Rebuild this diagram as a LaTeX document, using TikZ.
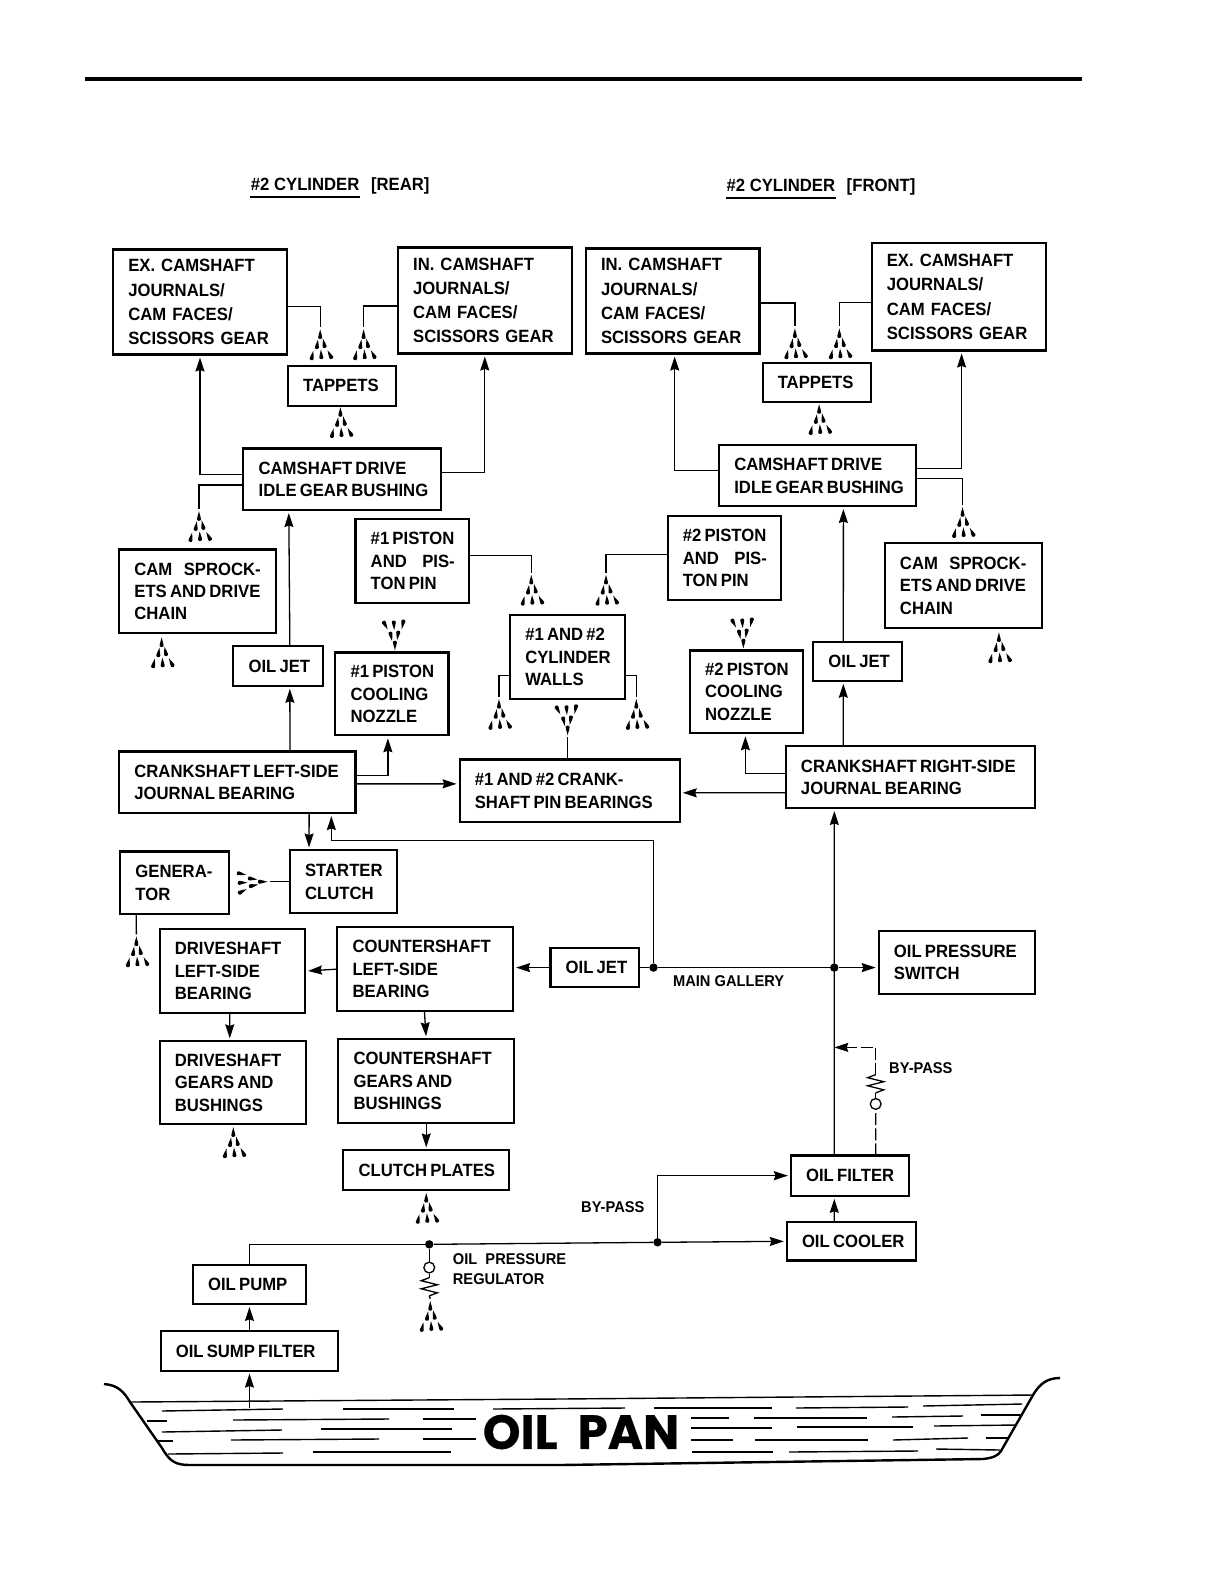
\documentclass[tikz,border=0pt]{standalone}
\usepackage{fontspec}
\setmainfont[FakeStretch=.94]{Liberation Sans}
\newfontfamily\panfont[BoldFeatures={FakeBold=.5}]{Poppins}
\usetikzlibrary{positioning,arrows.meta}
\tikzset{
 blk/.style 2 args={draw, line width=1.05pt, anchor=north west, outer sep=0pt, inner xsep=1.5pt, inner ysep=0pt,
  text width={(#1*.505-3)*1pt}, minimum height={#2*.505pt}, align=left,
  font=\fontsize{8.88}{11.2}\selectfont\bfseries,
  execute at begin node={\leftskip=6.1pt\rightskip=-6pt plus 1fil\spaceskip=1.6pt\xspaceskip=1.9pt}},
 camblk/.style={font=\fontsize{8.88}{12.1}\selectfont\bfseries,
  execute at begin node={\leftskip=6.1pt\rightskip=-6pt plus 1fil\spaceskip=3pt\xspaceskip=3pt}},
 lbl/.style={align=left, anchor=west, inner sep=0pt, font=\fontsize{7.8}{10}\selectfont\bfseries},
 ttl/.style={inner xsep=0pt, inner ysep=2.6pt, font=\fontsize{8.88}{10}\selectfont\bfseries},
 arr/.style={line width=.65pt, shorten >=1.5pt, -{Stealth[length=7pt,width=4.5pt,inset=.8pt]}},
 lin/.style={line width=.65pt},
 dsh/.style={line width=.65pt, dash pattern=on 6pt off 1.6pt},
 jdot/.style={circle, fill=black, inner sep=0pt, minimum size=4.2pt},
 vlv/.style={circle, draw, line width=.65pt, fill=white, inner sep=0pt, minimum size=5.4pt},
 spray/.pic={
  \foreach \dx/\dy/\ang in {0/8/0,-3/18/-8,4/17/12,-8/29/-12,1/28/3,10/28/28}
   \fill[shift={(\dx,\dy)},rotate=\ang] (0,-6) .. controls (.8,-2) and (2,0) .. (2,2)
    .. controls (2,4.2) and (-2,4.2) .. (-2,2) .. controls (-2,0) and (-.8,-2) .. cycle;
 },
 spring/.pic={
  \draw[line width=.65pt] (0,-9) -- (-8,-6) -- (8,-2) -- (-8,2) -- (8,6) -- (0,9);
 }
}
\begin{document}
\begin{tikzpicture}[x=.505pt,y=-.505pt]
\useasboundingbox (0,0) rectangle (1211.9,1568.3);
\coordinate (rulea) at (84,78);
\coordinate (ruleb) at (1071,78);
\draw[line width=2pt] (rulea) -- (ruleb);

% titles
\node[ttl,anchor=base west] (titler) at (248,189) {\#2 CYLINDER};
\node[ttl,base right=5.4pt of titler] (titlerb) {[REAR]};
\node[ttl,anchor=base west] (titlef) at (719,190) {\#2 CYLINDER};
\node[ttl,base right=5.4pt of titlef] (titlefb) {[FRONT]};
\draw[line width=.9pt] (titler.south west) -- (titler.south east);
\draw[line width=.9pt] (titlef.south west) -- (titlef.south east);

% rear side
\node[blk={172}{104},camblk] (excamr) at (112,247) {EX. CAMSHAFT\\JOURNALS/\\CAM FACES/\\SCISSORS GEAR};
\node[blk={172}{105},camblk] (incamr) at (394,245) {IN. CAMSHAFT\\JOURNALS/\\CAM FACES/\\SCISSORS GEAR};
\node[blk={107}{40}] (tappetsr) at (285,362) {TAPPETS};
\node[blk={196}{61}] (driver) at (241,444) {CAMSHAFT DRIVE\\IDLE GEAR BUSHING};
\node[blk={155}{83}] (sprockr) at (118,544) {CAM\hspace{5.7pt}SPROCK-\\ETS AND DRIVE\\CHAIN};
\node[blk={112}{83}] (pistonone) at (352,514) {\#1 PISTON\\AND\hspace{7.7pt}PIS-\\TON PIN};
\node[blk={89}{39}] (jetl) at (231,640) {OIL JET};
\node[blk={112}{82}] (nozzleone) at (332,646) {\#1 PISTON\\COOLING\\NOZZLE};
\node[blk={234}{61}] (crankl) at (118,744) {CRANKSHAFT LEFT-SIDE\\JOURNAL BEARING};

% middle
\node[blk={114}{83}] (walls) at (505,609) {\#1 AND \#2\\CYLINDER\\WALLS};
\node[blk={218}{62}] (pins) at (455,752) {\#1 AND \#2 CRANK-\\SHAFT PIN BEARINGS};

% front side
\node[blk={172}{104},camblk] (incamf) at (580,246) {IN. CAMSHAFT\\JOURNALS/\\CAM FACES/\\SCISSORS GEAR};
\node[blk={173}{106},camblk] (excamf) at (863,241) {EX. CAMSHAFT\\JOURNALS/\\CAM FACES/\\SCISSORS GEAR};
\node[blk={107}{39}] (tappetsf) at (755,359) {TAPPETS};
\node[blk={195}{60}] (drivef) at (712,441) {CAMSHAFT DRIVE\\IDLE GEAR BUSHING};
\node[blk={156}{84}] (sprockf) at (876,538) {CAM\hspace{5.7pt}SPROCK-\\ETS AND DRIVE\\CHAIN};
\node[blk={112}{83}] (pistontwo) at (661,511) {\#2 PISTON\\AND\hspace{7.7pt}PIS-\\TON PIN};
\node[blk={88}{38}] (jetr) at (805,636) {OIL JET};
\node[blk={112}{82}] (nozzletwo) at (683,644) {\#2 PISTON\\COOLING\\NOZZLE};
\node[blk={247}{61}] (crankr) at (778,739) {CRANKSHAFT RIGHT-SIDE\\JOURNAL BEARING};

% lower part
\node[blk={108}{62}] (genera) at (119,843) {GENERA-\\TOR};
\node[blk={106}{62}] (starter) at (287,842) {STARTER\\CLUTCH};
\node[blk={144}{83}] (driveb) at (158,920) {DRIVESHAFT\\LEFT-SIDE\\BEARING};
\node[blk={174}{83}] (counterb) at (334,918) {COUNTERSHAFT\\LEFT-SIDE\\BEARING};
\node[blk={88}{38}] (jetm) at (545,939) {OIL JET};
\node[blk={155}{62}] (pswitch) at (870,922) {OIL PRESSURE\\SWITCH};
\node[blk={145}{82}] (driveg) at (158,1031) {DRIVESHAFT\\GEARS AND\\BUSHINGS};
\node[blk={174}{83}] (counterg) at (335,1029) {COUNTERSHAFT\\GEARS AND\\BUSHINGS};
\node[blk={164}{39}] (clutch) at (340,1139) {CLUTCH PLATES};
\node[blk={117}{40}] (filter) at (783,1144) {OIL FILTER};
\node[blk={128}{38}] (cooler) at (779,1210) {OIL COOLER};
\node[blk={112}{39}] (pump) at (191,1252) {OIL PUMP};
\node[blk={176}{39}] (sump) at (159,1318) {OIL SUMP FILTER};

% labels
\node[lbl] (mainlbl) at (666,971) {MAIN GALLERY};
\node[lbl] (bypassa) at (880,1058) {BY-PASS};
\node[lbl] (bypassb) at (575,1195) {BY-PASS};
\node[lbl] (reglbl) at (448,1257) {OIL\ \ PRESSURE\\REGULATOR};

% sprays
\coordinate (sa) at (317,324);
\coordinate (sb) at (360,324);
\coordinate (sc) at (337,401);
\coordinate (sd) at (197,504);
\coordinate (se) at (160,629);
\coordinate (sf) at (526,567);
\coordinate (sg) at (600,567);
\coordinate (sh) at (494,690);
\coordinate (si) at (630,690);
\coordinate (sj) at (787,323);
\coordinate (sk) at (831,323);
\coordinate (sl) at (811,398);
\coordinate (sm) at (953,500);
\coordinate (sn) at (989,624);
\coordinate (so) at (135,925);
\coordinate (sp) at (231,1114);
\coordinate (sq) at (422,1179);
\coordinate (sr) at (426,1286);
\foreach \s in {sa,sb,sc,sd,se,sf,sg,sh,si,sj,sk,sl,sm,sn,so,sp,sq,sr}
 \pic at (\s) {spray};
\coordinate (ua) at (391,646);
\coordinate (ub) at (736,644);
\coordinate (uc) at (562,730);
\foreach \s in {ua,ub,uc}
 \pic[rotate=180] at (\s) {spray};
\coordinate (ud) at (267,873);
\pic[rotate=-90] at (ud) {spray};

% rear connectors
\draw[lin] ([yshift=-2.3pt]excamr.east) -| (sa);
\draw[lin] ([yshift=-2.8pt]incamr.west) -| (sb);
\draw[arr] ([yshift=2.5pt]driver.west) -| (excamr.south);
\draw[arr] ([yshift=3.4pt]driver.east) -| (incamr.south);
\draw[lin] ([yshift=-2.8pt]driver.west) -| (sd);
\draw[arr] ([xshift=5.8pt]jetl.north) -- ([xshift=-26.8pt]driver.south);
\draw[arr] ([xshift=26.3pt]crankl.north) -- ([xshift=5.8pt]jetl.south);
\draw[arr] ([yshift=3.3pt]crankl.east) -| ([xshift=-2pt]nozzleone.south);
\draw[arr] ([yshift=-.8pt]crankl.east) -- ([yshift=3.5pt]pins.west);
\draw[lin] ([yshift=2.8pt]pistonone.east) -| (sf);
% middle connectors
\draw[lin] ([yshift=-9.3pt]walls.west) -| (sh);
\draw[lin] ([yshift=-9.3pt]walls.east) -| (si);
\draw[lin] (uc) -- (uc |- pins.north);
% front connectors
\draw[lin] ([yshift=1.8pt]pistontwo.west) -| (sg);
\draw[lin] ([yshift=-1pt]incamf.east) -| (sj);
\draw[lin] ([yshift=-2.7pt]excamf.west) -| (sk);
\draw[arr] ([yshift=2.5pt]drivef.west) -| ([xshift=1pt]incamf.south);
\draw[arr] ([yshift=3.5pt]drivef.east) -| ([xshift=1.3pt]excamf.south);
\draw[lin] ([yshift=-1.5pt]drivef.east) -| (sm);
\draw[arr] ([xshift=-7.1pt]jetr.north) -- ([xshift=12.9pt]drivef.south);
\draw[arr] ([xshift=-33.6pt]crankr.north) -- ([xshift=-7.1pt]jetr.south);
\draw[arr] ([yshift=1.8pt]crankr.west) -| ([xshift=-.5pt]nozzletwo.south);
\draw[arr] ([yshift=-7.8pt]crankr.west) -- ([yshift=-1pt]pins.east);

% gallery
\node[jdot] (gala) at (647,958) {};
\node[jdot] (galb) at (826,958) {};
\coordinate (ret) at (647,832);
\draw[lin] (jetm.east) -- (gala);
\draw[lin] (gala) -- (galb);
\draw[arr] (galb) -- (pswitch.west |- galb);
\draw[arr] (gala) -- (ret) -| ([xshift=47pt]crankl.south);
\draw[arr] ([xshift=35.9pt]crankl.south) -- ([xshift=-17.2pt]starter.north);
\draw[arr] ([xshift=-7.8pt]filter.north) -- ([xshift=-38.1pt]crankr.south);
\draw[lin] (starter.west |- ud) -- (ud);
\draw[lin] ([xshift=-19.2pt]genera.south) -- (so);
\draw[arr] (jetm.west) -- (counterb.east |- jetm);
\draw[arr] (counterb.west) -- (driveb.east);
\draw[arr] ([xshift=-1.3pt]driveb.south) -- ([xshift=-1.5pt]driveg.north);
\draw[arr] ([xshift=-.4pt]counterb.south) -- (counterg.north);
\draw[arr] (counterg.south) -- (clutch.north);

% pressure side
\node[jdot] (regdot) at (425,1232) {};
\node[jdot] (byd) at (651,1230) {};
\draw[lin] (pump.north) |- (regdot);
\draw[lin] (regdot) -- (byd);
\draw[arr] (byd) -- (cooler.west);
\draw[arr] (byd) |- (filter.west);
\draw[arr] ([xshift=-8.6pt]cooler.north) -- ([xshift=-7.8pt]filter.south);
\draw[arr] (sump.north) -- (pump.south);
\coordinate (panin) at (247,1394);
\draw[arr] (panin) -- (sump.south);
% regulator
\node[vlv] (regv) at (425,1255) {};
\coordinate (regs) at (425,1274);
\pic at (regs) {spring};
\draw[lin] (regdot) -- (regv);
\draw[lin] (regv) -- ([yshift=4.5pt]regs);
\draw[lin] ([yshift=-4.5pt]regs) -- (sr);
% by-pass valve
\node[vlv] (byv) at (867,1093) {};
\coordinate (bys) at (867,1073);
\coordinate (byj) at (826,1037);
\pic at (bys) {spring};
\draw[lin] (byv) -- ([yshift=-4.5pt]bys);
\draw[dsh] ([xshift=12.9pt]filter.north) -- (byv);
\draw[dsh,-{Stealth[length=7pt,width=4.5pt,inset=.8pt]}] ([yshift=4.5pt]bys) |- (byj);

% oil pan
\begin{scope}[x=.5pt,y=-.5pt]
\draw[line width=1.2pt] (104,1384) .. controls (118,1385) and (124,1392) .. (130,1402) -- (162,1448)
 .. controls (170,1462) and (176,1465) .. (190,1465) -- (560,1465) -- (983,1459)
 .. controls (992,1458) and (998,1456) .. (1001,1451) -- (1033,1395)
 .. controls (1040,1383) and (1048,1378) .. (1060,1378);
\draw[line width=.7pt] (131,1402) -- (560,1399) -- (1034,1395);
\foreach \ax/\ay/\bx/\by in {162/1411/283/1409,343/1409/454/1409,493/1409/625/1408,654/1408/772/1408,796/1408/908/1407,923/1406/1022/1404,
 147/1421/167/1421,233/1420/389/1419,423/1419/476/1419,691/1418/729/1418,754/1418/867/1418,892/1417/963/1416,981/1415/1021/1415,
 162/1432/282/1430,321/1429/452/1429,691/1428/772/1428,797/1427/913/1427,934/1426/1016/1425,
 158/1441/173/1441,231/1440/379/1439,423/1439/476/1439,691/1440/733/1440,755/1440/868/1440,893/1440/968/1438,986/1438/1008/1438,
 168/1454/283/1453,313/1452/451/1452,692/1452/773/1452,789/1452/918/1451,936/1449/1000/1450}
 \draw[line width=.7pt] (\ax,\ay) -- (\bx,\by);
\node[inner sep=0pt,font=\panfont\bfseries\fontsize{24}{24}\selectfont] (panlbl) at (581,1432) {OIL\hspace{5pt} PAN};
\end{scope}
\end{tikzpicture}
\end{document}
